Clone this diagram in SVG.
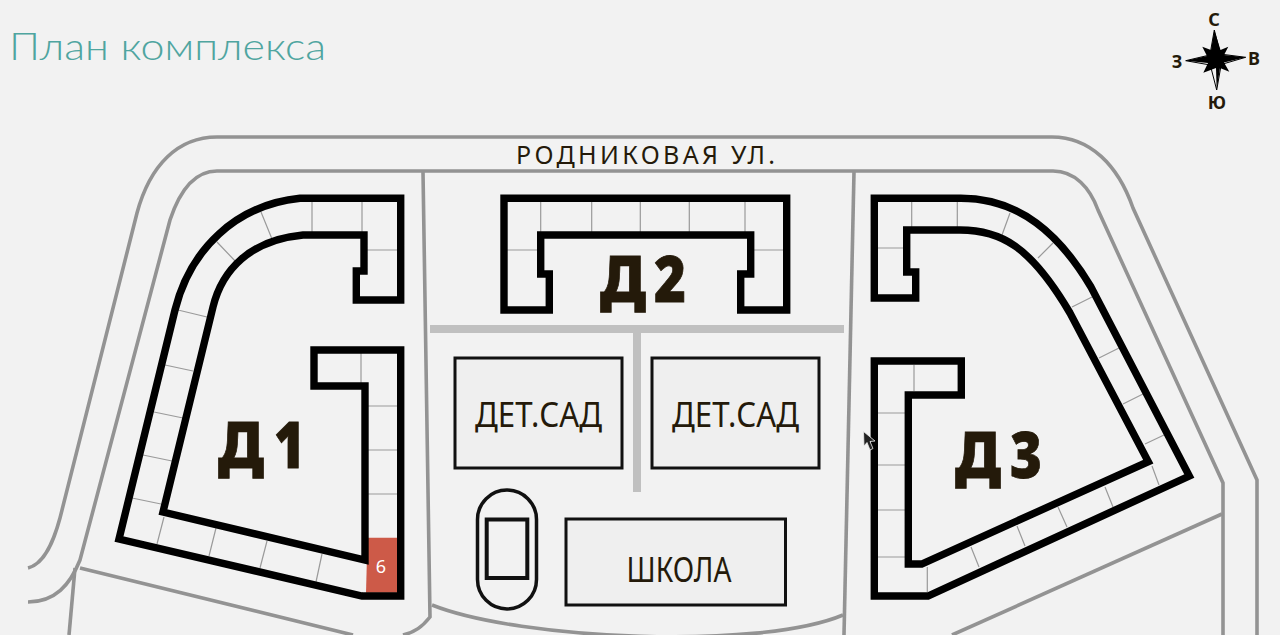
<svg xmlns="http://www.w3.org/2000/svg" width="1280" height="635" viewBox="0 0 1280 635">
<style>
.road{fill:none;stroke:#939393;stroke-width:3.6}
.bar{fill:none;stroke:#c0c0c0;stroke-width:8}
.wall{fill:none;stroke:#000;stroke-width:7.4;stroke-linejoin:miter}
.cell{fill:none;stroke:#9a9a9a;stroke-width:1.2}
.box{fill:#efefef;stroke:#111;stroke-width:3}
text{font-family:"Noto Sans","Open Sans","Liberation Sans",sans-serif;fill:#241a0a}
.big{font-size:64px;font-weight:900;stroke:#241a0a;stroke-width:0.8}
.lab{font-size:35px}
.ray{fill:#f2f2f2;stroke:#000;stroke-width:1}
</style>
<rect width="1280" height="635" fill="#f2f2f2"/>
<text x="9" y="60" font-size="38" font-weight="300" style="font-family:Lato,'Noto Sans',sans-serif;fill:#4fa5a0" textLength="317" lengthAdjust="spacingAndGlyphs">План комплекса</text>
<g id="connectors">
<path class="road" d="M28 568C45 564 54 540 60 518L137 213C150 165 178 137 217 137H1052C1090 137 1118 165 1133 208L1257 480V635"/>
<path class="road" d="M28 602C55 602 70 585 80 560L170 220C180 190 195 171 217 171H1053C1075 171 1090 188 1098 210L1223 483V635"/>
<path class="road" d="M1222 514L952 635"/>
<path class="road" d="M423 172L430 617C422 627 415 632 403 635"/>
<path class="road" d="M854 172L844 635"/>
<path class="road" d="M432 605C520 640 760 650 843 615"/>
<path class="road" d="M80 568L353 635"/>
<path class="road" d="M75 568L69 635"/>
<path class="bar" d="M430 329H844"/>
<path class="bar" d="M637 333V492"/>
</g>
<g id="d1">
<path fill="#cd5a48" d="M367.500 537.700H397V592.700H366Z"/>
<path class="cell" d="M312 202V232M362 202V232M367 250H397M261 212L272 239M217 242L237 263M178 310L207 317M165 365L193 371M154 412L183 418M143 455L172 461M132 498L161 504M164 517L157 544M216 528L209 556M267 541L260 568M322 554L316 582M361 353V383M368 406H397M368 450H397M368 494H397"/>
<path class="wall" d="M300 198.300H400.700V300H356.300V271H364V235H303C250 240 222 270 213 307L163 512L365 560V386H314V350H400.700V596L362 596L119 539L175 310C190 250 235 205 300 198.300Z"/>
<text class="big" y="468"><tspan x="218" textLength="46" lengthAdjust="spacingAndGlyphs">Д</tspan><tspan x="274" textLength="31" lengthAdjust="spacingAndGlyphs">1</tspan></text>
<text x="381" y="573" font-size="18" text-anchor="middle" style="fill:#fff">6</text>
</g>
<g id="d2">
<path class="cell" d="M540.700 202V232M591.700 202V232M640.300 202V232M689.300 202V232M745 202V232M507 250H537M753 250H783"/>
<path class="wall" d="M504 198.300H786.700V310H740.700V274H750.700V235H540.700V274H549.300V310H504Z"/>
<text class="big" y="302"><tspan x="600" textLength="46" lengthAdjust="spacingAndGlyphs">Д</tspan><tspan x="654" textLength="32" lengthAdjust="spacingAndGlyphs">2</tspan></text>
</g>
<g id="d3">
<path class="cell" d="M911.700 202V228M957.300 202V227M1010 213L1002 235M1053 243L1038 258M1092 297L1072 307M1119 348L1099 358M1143 394L1123 404M1164 435L1145 444M1152 466L1159 485M1105 487L1113 507M1058 507L1067 527M1017 526L1025 546M971 547L979 567M927.300 567V592M878 557H905M878 510H905M878 465H905M878 413H905M914 365V391M878 248H903"/>
<path class="wall" d="M874.300 198.300H960C1020 198 1060 235 1091 287L1189.300 476L928 596H874.300V361H961.300V395H908.300V564H921.700L1148.300 461.700L1070 313C1030 245 1000 230 960 230H906.700V272H915.700V298H874.300Z"/>
<text class="big" y="478"><tspan x="955" textLength="46" lengthAdjust="spacingAndGlyphs">Д</tspan><tspan x="1010" textLength="32" lengthAdjust="spacingAndGlyphs">3</tspan></text>
</g>
<g id="detsad1">
<rect class="box" x="455" y="358" width="167" height="110"/>
<text class="lab" x="475" y="427" textLength="127" lengthAdjust="spacingAndGlyphs">ДЕТ.САД</text>
</g>
<g id="detsad2">
<rect class="box" x="652" y="358" width="167" height="110"/>
<text class="lab" x="672" y="427" textLength="127" lengthAdjust="spacingAndGlyphs">ДЕТ.САД</text>
</g>
<g id="school">
<rect class="box" x="566" y="519" width="219.500" height="86"/>
<text class="lab" x="626.500" y="582" textLength="105" lengthAdjust="spacingAndGlyphs">ШКОЛА</text>
</g>
<g id="stadium">
<rect x="477.500" y="490" width="59" height="119" rx="29.500" fill="none" stroke="#111" stroke-width="3.500"/>
<rect x="486.700" y="519.500" width="40.600" height="58.500" fill="none" stroke="#111" stroke-width="4"/>
</g>
<g id="street">
<text x="516" y="164" font-size="25" textLength="259" lengthAdjust="spacing">РОДНИКОВАЯ УЛ.</text>
</g>
<g id="compass">
<path class="ray" d="M1214.300 30L1209 60L1216.700 90L1222 60ZM1185.700 60.700L1216 53.500L1245.700 57.300L1216 66Z"/>
<path fill="#000" d="M1214.300 30L1220.500 50L1228.300 46.700L1224 55L1245.700 57.300L1224 62.500L1229.300 71.700L1220 68L1216.700 90L1216 68L1203.300 72.700L1208 63L1185.700 60.700L1207 56L1202.300 46.700L1211 50Z"/>
<g font-size="18" font-weight="700" text-anchor="middle">
<text x="1214" y="26">С</text>
<text x="1177" y="68">З</text>
<text x="1254" y="65">В</text>
<text x="1217" y="109">Ю</text>
</g>
</g>
<path id="cursor" d="M863.500 431.500L864 446L867 442.500L870 450L873 448.500L870 441.500L875 441Z" fill="#222" stroke="#eee" stroke-width="0.800"/>
</svg>
